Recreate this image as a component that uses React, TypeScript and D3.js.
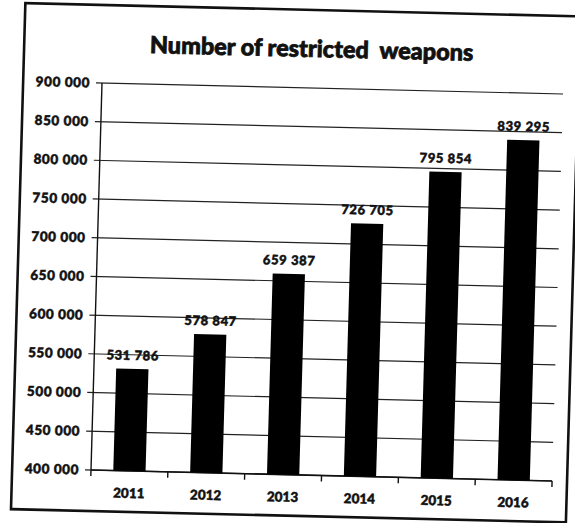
import React from "react";
import * as d3 from "d3";

const years = ["2011", "2012", "2013", "2014", "2015", "2016"];
const values = [531786, 578847, 659387, 726705, 795854, 839295];
const yTicks = [400000, 450000, 500000, 550000, 600000, 650000, 700000, 750000, 800000, 850000, 900000];
const title = "Number of restricted\u00A0 weapons";

const W = 575;
const H = 523;
const L = 95;
const R = 557;
const T = 85;
const B = 472;

const fmt = (v: number) => d3.format(",")(v).replace(/,/g, " ");

export default function App() {
  const x = d3.scaleBand<string>().domain(years).range([L, R]).paddingInner(0.58).paddingOuter(0.29);
  const y = d3.scaleLinear().domain([400000, 900000]).range([B, T]);
  const step = x.step();
  const font = "Lato, 'Open Sans', sans-serif";
  const tickX = d3.range(0, years.length + 1).map((i) => L + i * step);
  const bold = { fontFamily: font, fontWeight: 900, fill: "#111", stroke: "#111", strokeWidth: 0.5 } as const;

  return (
    <svg width={W} height={H} style={{ position: "absolute", left: 0, top: 0, background: "#fff" }}>
      <rect x={0} y={0} width={W} height={H} fill="#fff" />
      <g transform="matrix(0.998,0.0238,-0.0284,1,9.6,-4.26)">
        <rect x={16} y={7} width={556} height={506} fill="none" stroke="#111" strokeWidth={2.6} />
        <text x={304} y={54} textAnchor="middle" fontSize={23.5} {...bold} strokeWidth={0.8}>
          {title}
        </text>
        {yTicks.map((t) => (
          <g key={t}>
            <line x1={L - 6} x2={R} y1={y(t)} y2={y(t)} stroke="#222" strokeWidth={1.2} />
            <text x={L - 12} y={y(t)} dy="0.35em" textAnchor="end" fontSize={13.5} letterSpacing={0.6} {...bold}>
              {fmt(t)}
            </text>
          </g>
        ))}
        <line x1={L} x2={L} y1={T} y2={B} stroke="#111" strokeWidth={1.4} />
        <line x1={L} x2={R} y1={B} y2={B} stroke="#111" strokeWidth={1.6} />
        {tickX.map((tx, i) => (
          <line key={i} x1={tx} x2={tx} y1={B} y2={B + 6} stroke="#111" strokeWidth={1.4} />
        ))}
        {years.map((yr, i) => (
          <g key={yr}>
            <rect
              x={x(yr)!}
              y={y(values[i])}
              width={x.bandwidth()}
              height={B - y(values[i])}
              fill="#000"
            />
            <text
              x={x(yr)! + x.bandwidth() / 2}
              y={y(values[i]) - 9}
              textAnchor="middle"
              fontSize={13}
              letterSpacing={0.6}
              {...bold}
            >
              {fmt(values[i])}
            </text>
            <text x={x(yr)! + x.bandwidth() / 2} y={B + 27} textAnchor="middle" fontSize={13.5} {...bold}>
              {yr}
            </text>
          </g>
        ))}
      </g>
    </svg>
  );
}
